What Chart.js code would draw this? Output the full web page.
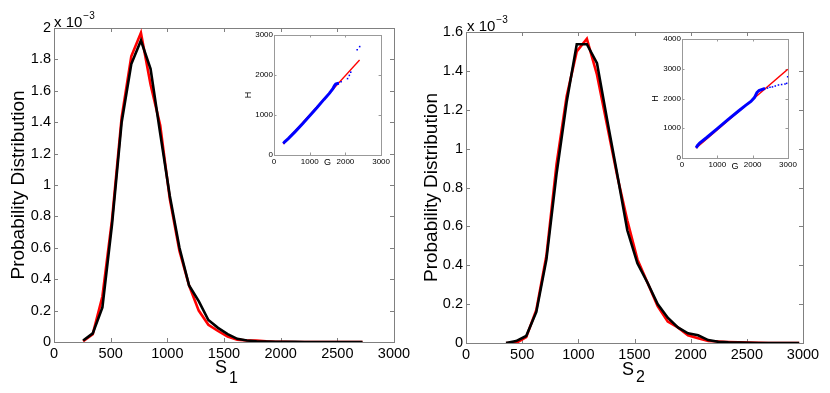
<!DOCTYPE html>
<html lang="en">
<head>
<meta charset="UTF-8">
<title>Probability Distribution of S1 and S2</title>
<script src="https://cdn.jsdelivr.net/npm/chart.js"></script>
<style>
  body { margin: 0; background: #fff; }
  #wrap { position: relative; width: 830px; height: 393px; overflow: hidden; font-family: "Liberation Sans", Arial, sans-serif; color: #000; }
  canvas { position: absolute; }
  .lbl { position: absolute; white-space: nowrap; }
  .mult { font-size: 15px; line-height: 15px; }
  .mult span { position: relative; top: -8px; font-size: 10px; margin-left: 1px; }
  .xname { font-size: 18px; line-height: 18px; }
  .xname span { position: relative; font-size: 16px; margin-left: 2px; }
</style>
</head>
<body>
<div id="wrap">
  <canvas id="mainS1" width="415" height="393" style="left:0;top:0"></canvas>
  <canvas id="mainS2" width="415" height="393" style="left:415px;top:0"></canvas>
  <canvas id="insetS1" width="152" height="145" style="left:240px;top:28px"></canvas>
  <canvas id="insetS2" width="154" height="145" style="left:645px;top:30px"></canvas>

  <div class="lbl mult" style="left:54px;top:14px">x 10<span>&minus;3</span></div>
  <div class="lbl mult" style="left:467px;top:18px">x 10<span>&minus;3</span></div>
  <div class="lbl xname" style="left:215px;top:358px">S<span style="top:10px">1</span></div>
  <div class="lbl xname" style="left:622px;top:360px">S<span style="top:7px">2</span></div>
</div>

<script>
// ---- S1 panel (values in units of 1e-3) ----
const s1Bins = [257, 342, 427, 512, 597, 682, 767, 852, 937, 1022, 1107, 1192, 1277, 1362, 1447,
                1532, 1617, 1702, 1787, 1872, 1957, 2042, 2127, 2212, 2297, 2382, 2467, 2552, 2637, 2722];
const s1Red   = [0.005, 0.05, 0.29, 0.78, 1.43, 1.82, 1.97, 1.64, 1.38, 0.91, 0.58, 0.36, 0.20, 0.11, 0.07,
                 0.035, 0.015, 0.01, 0.01, 0.005, 0.002, 0.001, 0, 0, 0, 0, 0, 0, 0, 0];
const s1Black = [0.01, 0.055, 0.22, 0.75, 1.40, 1.77, 1.92, 1.74, 1.33, 0.93, 0.60, 0.36, 0.26, 0.14, 0.09,
                 0.05, 0.02, 0.01, 0.005, 0.003, 0.002, 0.001, 0.001, 0, 0, 0, 0, 0, 0, 0];

// ---- S2 panel ----
const s2Bins = [356, 446, 536, 626, 716, 806, 896, 986, 1076, 1166, 1256, 1346, 1436, 1526, 1616,
                1706, 1796, 1886, 1976, 2066, 2156, 2246, 2336, 2426, 2516, 2606, 2696, 2786, 2876, 2966];
const s2Red   = [0, 0, 0.03, 0.17, 0.45, 0.92, 1.27, 1.50, 1.565, 1.38, 1.12, 0.86, 0.63, 0.43, 0.31,
                 0.19, 0.11, 0.08, 0.04, 0.025, 0.01, 0.008, 0.005, 0.003, 0.002, 0.001, 0, 0, 0, 0];
const s2Black = [0, 0.01, 0.036, 0.16, 0.43, 0.87, 1.24, 1.537, 1.537, 1.44, 1.15, 0.87, 0.58, 0.41, 0.31,
                 0.20, 0.13, 0.08, 0.05, 0.04, 0.015, 0.006, 0.003, 0.002, 0.001, 0, 0, 0, 0, 0];

// ---- inset G vs H, panel 1 ----
const g1Fit = [259, 2397];
const h1Fit = [275, 2375];
const g1Trace = [260, 300, 400, 600, 800, 1000, 1200, 1400, 1550, 1650, 1700, 1730, 1780, 1820];
const h1Trace = [290, 330, 410, 590, 780, 980, 1180, 1390, 1540, 1660, 1740, 1775, 1790, 1795];
const g1Out = [1880, 2060, 2110, 2150, 2330, 2400];
const h1Out = [1830, 1910, 1990, 2070, 2630, 2710];

// ---- inset G vs H, panel 2 ----
const g2Fit = [396, 2991];
const h2Fit = [327, 2980];
const g2Trace = [400, 440, 500, 700, 1000, 1300, 1600, 1800, 1950, 2050, 2120, 2180, 2250, 2350];
const h2Trace = [340, 420, 500, 690, 990, 1290, 1580, 1770, 1900, 2030, 2200, 2270, 2300, 2340];
const g2Out = [2420, 2490, 2560, 2640, 2730, 2820, 2915, 2962, 2991];
const h2Out = [2350, 2376, 2390, 2420, 2454, 2470, 2487, 2510, 2733];

const FONT = '"Liberation Sans", Arial, sans-serif';
Chart.defaults.font.family = FONT;
Chart.defaults.color = '#000';

const pts = (xs, ys) => xs.map((x, i) => ({ x: x, y: ys[i] }));
const plain = v => String(+Number(v).toFixed(1));

// gray box around the plot area with small inward ticks on all four sides
const frameTicks = {
  id: 'frameTicks',
  beforeDatasetsDraw(chart, args, opts) {
    const { ctx, chartArea: a, scales } = chart;
    const len = opts.len || 4;
    ctx.save();
    ctx.strokeStyle = opts.color || '#808080';
    ctx.lineWidth = 1;
    ctx.beginPath();
    scales.x.ticks.forEach(t => {
      const px = Math.round(scales.x.getPixelForValue(t.value)) + 0.5;
      ctx.moveTo(px, a.bottom); ctx.lineTo(px, a.bottom - len);
      ctx.moveTo(px, a.top); ctx.lineTo(px, a.top + len);
    });
    scales.y.ticks.forEach(t => {
      const py = Math.round(scales.y.getPixelForValue(t.value)) + 0.5;
      ctx.moveTo(a.left, py); ctx.lineTo(a.left + len, py);
      ctx.moveTo(a.right, py); ctx.lineTo(a.right - len, py);
    });
    ctx.stroke();
    ctx.strokeRect(Math.round(a.left) + 0.5, Math.round(a.top) + 0.5,
                   Math.round(a.width), Math.round(a.height));
    ctx.restore();
  }
};

function mainChart(id, bins, red, black, yMax, pad, yTitlePad) {
  return new Chart(document.getElementById(id), {
    type: 'line',
    data: {
      datasets: [
        { data: pts(bins, black), borderColor: '#000', borderWidth: 2.6, pointRadius: 0, order: 0 },
        { data: pts(bins, red), borderColor: '#ff0000', borderWidth: 2.6, pointRadius: 0, order: 1 }
      ]
    },
    options: {
      responsive: false,
      animation: false,
      devicePixelRatio: 1,
      layout: { padding: { top: pad.top, right: pad.right, left: 0, bottom: 0 } },
      plugins: { legend: { display: false }, tooltip: { enabled: false },
                 frameTicks: { color: '#808080', len: 4 } },
      scales: {
        x: {
          type: 'linear', min: 0, max: 3000,
          ticks: { stepSize: 500, padding: 3, maxRotation: 0, font: { size: 14.5 }, callback: plain },
          grid: { display: false, drawTicks: false }, border: { display: false },
          afterFit: s => { s.height = pad.xh; }
        },
        y: {
          min: 0, max: yMax,
          ticks: { stepSize: 0.2, padding: 3, font: { size: 14.5 }, callback: plain },
          grid: { display: false, drawTicks: false }, border: { display: false },
          title: { display: true, text: 'Probability Distribution', font: { size: 19 },
                   padding: { top: yTitlePad, bottom: 0 } },
          afterFit: s => { s.width = pad.yw; }
        }
      }
    },
    plugins: [frameTicks]
  });
}

function insetChart(id, gFit, hFit, gTr, hTr, gOut, hOut, yMax, pad) {
  return new Chart(document.getElementById(id), {
    type: 'line',
    data: {
      datasets: [
        { data: pts(gTr, hTr), borderColor: '#0000ff', borderWidth: 3, pointRadius: 0, order: 0 },
        { data: pts(gOut, hOut), showLine: false, pointStyle: 'rect', pointRadius: 1.1,
          pointBackgroundColor: '#0000ff', pointBorderWidth: 0, order: 0 },
        { data: pts(gFit, hFit), borderColor: '#ff0000', borderWidth: 1.3, pointRadius: 0, order: 1 }
      ]
    },
    options: {
      responsive: false,
      animation: false,
      devicePixelRatio: 1,
      layout: { padding: { top: pad.top, right: pad.right, left: 0, bottom: 0 } },
      plugins: { legend: { display: false }, tooltip: { enabled: false },
                 frameTicks: { color: '#999', len: 2.5 } },
      scales: {
        x: {
          type: 'linear', min: 0, max: 3000,
          ticks: { stepSize: 1000, padding: 2, maxRotation: 0, font: { size: 8 }, callback: plain },
          grid: { display: false, drawTicks: false }, border: { display: false },
          title: { display: true, text: 'G', font: { size: 9 }, padding: { top: 0, bottom: pad.gPad } },
          afterFit: s => { s.height = pad.xh; }
        },
        y: {
          min: 0, max: yMax,
          ticks: { stepSize: 1000, padding: 1, font: { size: 8 }, callback: plain },
          grid: { display: false, drawTicks: false }, border: { display: false },
          title: { display: true, text: 'H', font: { size: 9 }, padding: { top: pad.hPad, bottom: 0 } },
          afterFit: s => { s.width = pad.yw; }
        }
      }
    },
    plugins: [frameTicks]
  });
}

mainChart('mainS1', s1Bins, s1Red, s1Black, 2, { top: 28, right: 21, xh: 51, yw: 54 }, 7);
mainChart('mainS2', s2Bins, s2Red, s2Black, 1.6, { top: 32, right: 27, xh: 50, yw: 51 }, 5);
insetChart('insetS1', g1Fit, h1Fit, g1Trace, h1Trace, g1Out, h1Out, 3000,
           { top: 7, right: 10, xh: 18, yw: 34, gPad: 4.6, hPad: 3 });
insetChart('insetS2', g2Fit, h2Fit, g2Trace, h2Trace, g2Out, h2Out, 4000,
           { top: 9, right: 11, xh: 17, yw: 37, gPad: 3, hPad: 5 });
</script>
</body>
</html>
